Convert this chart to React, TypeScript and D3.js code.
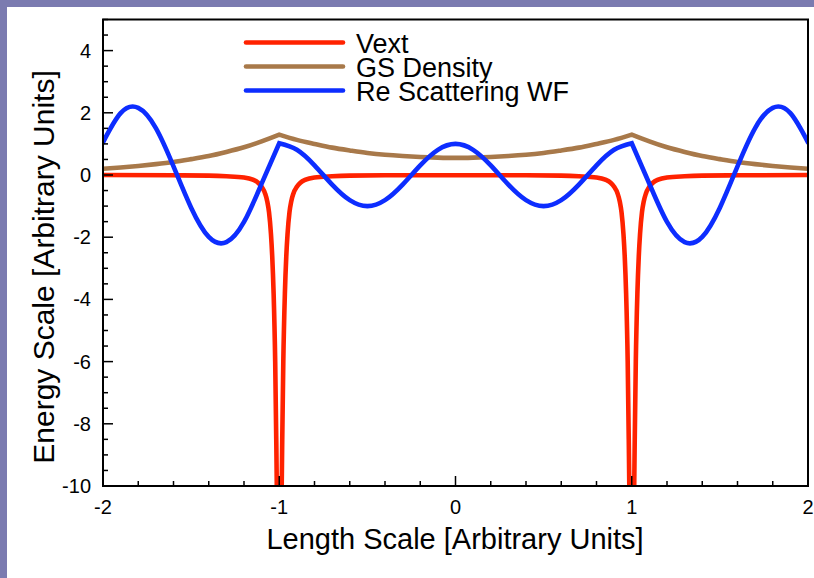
import React from "react";
import * as d3 from "d3";

// shared grid for the density and the wave function
const xGrid = [
  -2, -1.9, -1.8, -1.7, -1.6, -1.5, -1.4, -1.3, -1.2, -1.1, -1,
  -0.9, -0.8, -0.7, -0.6, -0.5, -0.4, -0.3, -0.2, -0.1, 0, 0.1, 0.2, 0.3, 0.4, 0.5, 0.6, 0.7, 0.8, 0.9,
  1, 1.1, 1.2, 1.3, 1.4, 1.5, 1.6, 1.7, 1.8, 1.9, 2,
];
const gsDensity = [
  0.2, 0.24, 0.29, 0.35, 0.42, 0.51, 0.61, 0.74, 0.89, 1.08, 1.3,
  1.13, 1.0, 0.88, 0.79, 0.71, 0.65, 0.61, 0.58, 0.56, 0.55, 0.56, 0.58, 0.61, 0.65, 0.71, 0.79, 0.88, 1.0, 1.13,
  1.3, 1.08, 0.89, 0.74, 0.61, 0.51, 0.42, 0.35, 0.29, 0.24, 0.2,
];
const reScatteringWF = [
  1.05, 1.99, 2.16, 1.51, 0.28, -1.05, -1.99, -2.16, -1.51, -0.28, 1.02,
  0.81, 0.31, -0.31, -0.81, -1.0, -0.81, -0.31, 0.31, 0.81, 1.0, 0.81, 0.31, -0.31, -0.81, -1.0, -0.81, -0.31, 0.31, 0.81,
  1.02, -0.28, -1.51, -2.16, -1.99, -1.05, 0.28, 1.51, 2.16, 1.99, 1.05,
];
// kinks of the density / wave function sit on the wells
const cusps = [-1, 1];

// external potential, sampled densely around the two wells
const vextX = [
  -2, -1.6, -1.4, -1.3, -1.2, -1.15, -1.12, -1.1, -1.08, -1.068, -1.058, -1.047, -1.04, -1.032, -1.023, -1.017, -1.013, -1.008,
  -1,
  -0.992, -0.987, -0.983, -0.977, -0.968, -0.96, -0.953, -0.942, -0.932, -0.92, -0.9, -0.88, -0.85, -0.8, -0.7, -0.6, -0.4,
  0,
  0.4, 0.6, 0.7, 0.8, 0.85, 0.88, 0.9, 0.92, 0.932, 0.942, 0.953, 0.96, 0.968, 0.977, 0.983, 0.987, 0.992,
  1,
  1.008, 1.013, 1.017, 1.023, 1.032, 1.04, 1.047, 1.058, 1.068, 1.08, 1.1, 1.12, 1.15, 1.2, 1.3, 1.4, 1.6, 2,
];
const vext = [
  0, -0.01, -0.02, -0.04, -0.08, -0.15, -0.25, -0.38, -0.6, -0.85, -1.2, -1.9, -2.6, -3.8, -6.0, -8.5, -10.5, -14,
  -30,
  -14, -10.5, -8.5, -6.0, -3.8, -2.6, -1.9, -1.2, -0.85, -0.6, -0.38, -0.25, -0.15, -0.08, -0.04, -0.02, -0.01,
  -0.01,
  -0.01, -0.02, -0.04, -0.08, -0.15, -0.25, -0.38, -0.6, -0.85, -1.2, -1.9, -2.6, -3.8, -6.0, -8.5, -10.5, -14,
  -30,
  -14, -10.5, -8.5, -6.0, -3.8, -2.6, -1.9, -1.2, -0.85, -0.6, -0.38, -0.25, -0.15, -0.08, -0.04, -0.02, -0.01, 0,
];

const xTickValues = [-2, -1, 0, 1, 2];
const yTickValues = [-10, -8, -6, -4, -2, 0, 2, 4];

const legendItems = [
  { label: "Vext", color: "#ff2200" },
  { label: "GS Density", color: "#a8794a" },
  { label: "Re Scattering WF", color: "#0d2dff" },
];

const FONT = "'Liberation Sans', Arial, Helvetica, sans-serif";

export default function App() {
  const width = 814;
  const height = 578;
  const left = 103, right = 808, top = 19.5, bottom = 486;

  const x = d3.scaleLinear().domain([-2, 2]).range([left, right]);
  const y = d3.scaleLinear().domain([-10, 5]).range([bottom, top]);

  // draw a curve in pieces between the cusps, then glue them into one path
  const cuspPath = (ys: number[]) => {
    const pts = xGrid.map((v, i) => [v, ys[i]] as [number, number]);
    const bounds = [-Infinity, ...cusps, Infinity];
    const gen = d3.line<[number, number]>()
      .x(d => x(d[0]))
      .y(d => y(d[1]))
      .curve(d3.curveNatural);
    let d = "";
    for (let k = 0; k < bounds.length - 1; k++) {
      const seg = pts.filter(p => p[0] >= bounds[k] - 1e-9 && p[0] <= bounds[k + 1] + 1e-9);
      const s = gen(seg) || "";
      d += k === 0 ? s : s.replace(/^M[^A-Za-z]*/, "");
    }
    return d;
  };

  const vextPath = d3.line<number>()
    .x((_, i) => x(vextX[i]))
    .y(d => y(d))
    .curve(d3.curveMonotoneX)(vext) || "";

  const yMinor = d3.range(-10, 5.01, 0.5).filter(v => Math.abs(v % 2) > 1e-6);
  const xMinor = d3.range(-2, 2.001, 0.2).filter(v => Math.abs(v - Math.round(v)) > 1e-6);

  return (
    <div>
      <style>{`body{margin:0}`}</style>
      <svg width={width} height={height} style={{ display: "block" }}>
        <rect x={0} y={0} width={width} height={height} fill="#7b7bb0" />
        <rect x={7} y={7} width={width - 7} height={height - 7} fill="#ffffff" />

        <defs>
          <clipPath id="plotClip">
            <rect x={left} y={top} width={right - left} height={bottom - top} />
          </clipPath>
        </defs>

        <g clipPath="url(#plotClip)" fill="none" strokeWidth={4.6} strokeLinejoin="miter" strokeLinecap="round">
          <path d={vextPath} stroke={legendItems[0].color} />
          <path d={cuspPath(gsDensity)} stroke={legendItems[1].color} />
          <path d={cuspPath(reScatteringWF)} stroke={legendItems[2].color} />
        </g>

        {/* ticks, inward */}
        <g stroke="#000" strokeWidth={1.5}>
          {yTickValues.map(v => (
            <line key={"ym" + v} x1={left} x2={left + 10} y1={y(v)} y2={y(v)} />
          ))}
          {yMinor.map(v => (
            <line key={"yn" + v} x1={left} x2={left + 5} y1={y(v)} y2={y(v)} />
          ))}
          {xTickValues.map(v => (
            <line key={"xm" + v} x1={x(v)} x2={x(v)} y1={bottom} y2={bottom - 10} />
          ))}
          {xMinor.map(v => (
            <line key={"xn" + v} x1={x(v)} x2={x(v)} y1={bottom} y2={bottom - 5} />
          ))}
        </g>

        <rect x={left} y={top} width={right - left} height={bottom - top} fill="none" stroke="#000" strokeWidth={2} />

        <g fontFamily={FONT} fontSize={20} fill="#000">
          {yTickValues.map(v => (
            <text key={"yl" + v} x={left - 12} y={y(v)} textAnchor="end" dominantBaseline="central">{v}</text>
          ))}
          {xTickValues.map(v => (
            <text key={"xl" + v} x={x(v)} y={514} textAnchor="middle">{v}</text>
          ))}
        </g>

        <text x={455} y={549} textAnchor="middle" fontFamily={FONT} fontSize={29}>
          Length Scale [Arbitrary Units]
        </text>
        <text
          transform={`translate(54, 267) rotate(-90)`}
          textAnchor="middle"
          fontFamily={FONT}
          fontSize={30}
        >
          Energy Scale [Arbitrary Units]
        </text>

        <g fontFamily={FONT} fontSize={27}>
          {legendItems.map((d, i) => (
            <g key={d.label} transform={`translate(0, ${42.5 + i * 24})`}>
              <line x1={246} x2={343} y1={0} y2={0} stroke={d.color} strokeWidth={4.6} strokeLinecap="round" />
              <text x={356} y={10}>{d.label}</text>
            </g>
          ))}
        </g>
      </svg>
    </div>
  );
}
